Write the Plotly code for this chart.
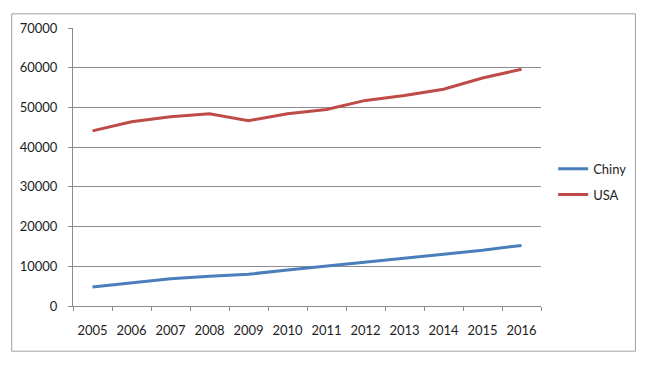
import plotly.graph_objects as go

years = ["2005", "2006", "2007", "2008", "2009", "2010", "2011", "2012", "2013", "2014", "2015", "2016"]
chiny = [4780, 5770, 6850, 7500, 8000, 9070, 10100, 10960, 12050, 13030, 14020, 15260]
usa = [44100, 46400, 47650, 48400, 46670, 48400, 49470, 51770, 53000, 54600, 57400, 59600]

font_family = "Lato, Open Sans, Liberation Sans, sans-serif"
text_color = "#1e1e1e"

fig = go.Figure()
fig.add_trace(go.Scatter(x=years, y=chiny, mode="lines", name="Chiny", legendgroup="a",
                         line=dict(color="#4A7EBB", width=3)))
fig.add_trace(go.Scatter(x=years, y=usa, mode="lines", name="USA", legendgroup="b",
                         line=dict(color="#BE4B48", width=3)))

# page has an 8px body margin; plot area sits at page x 70..541, y 23..306
fig.update_layout(
    width=637, height=358,
    margin=dict(l=62, r=104, t=15, b=60),
    paper_bgcolor="white", plot_bgcolor="white",
    font=dict(family=font_family, size=13, color=text_color),
    showlegend=True,
    legend=dict(x=1.026, y=0.447, xanchor="left", yanchor="middle",
                font=dict(size=13, color=text_color), traceorder="grouped",
                bgcolor="rgba(0,0,0,0)", itemwidth=30, tracegroupgap=6),
    shapes=[dict(type="rect", xref="paper", yref="paper",
                 x0=-0.131, x1=1.2017, y0=-0.1625, y1=1.051,
                 line=dict(color="#A0A0A0", width=1), fillcolor="rgba(0,0,0,0)",
                 layer="below")],
)
fig.update_xaxes(type="category", range=[-0.5, 11.5], showgrid=False, showline=True,
                 linecolor="#8C8C8C", linewidth=1, ticks="outside", ticklen=4,
                 tickcolor="#8C8C8C", tickson="boundaries", ticklabelstandoff=12,
                 tickangle=0, zeroline=False, fixedrange=True)
fig.update_yaxes(range=[0, 70000], dtick=10000, showgrid=True, gridcolor="#8C8C8C",
                 gridwidth=1, showline=True, linecolor="#8C8C8C", linewidth=1,
                 ticks="outside", ticklen=4, tickcolor="#8C8C8C",
                 ticklabelstandoff=8, zeroline=False, tickformat="d",
                 fixedrange=True)

fig.write_html("out.html")
